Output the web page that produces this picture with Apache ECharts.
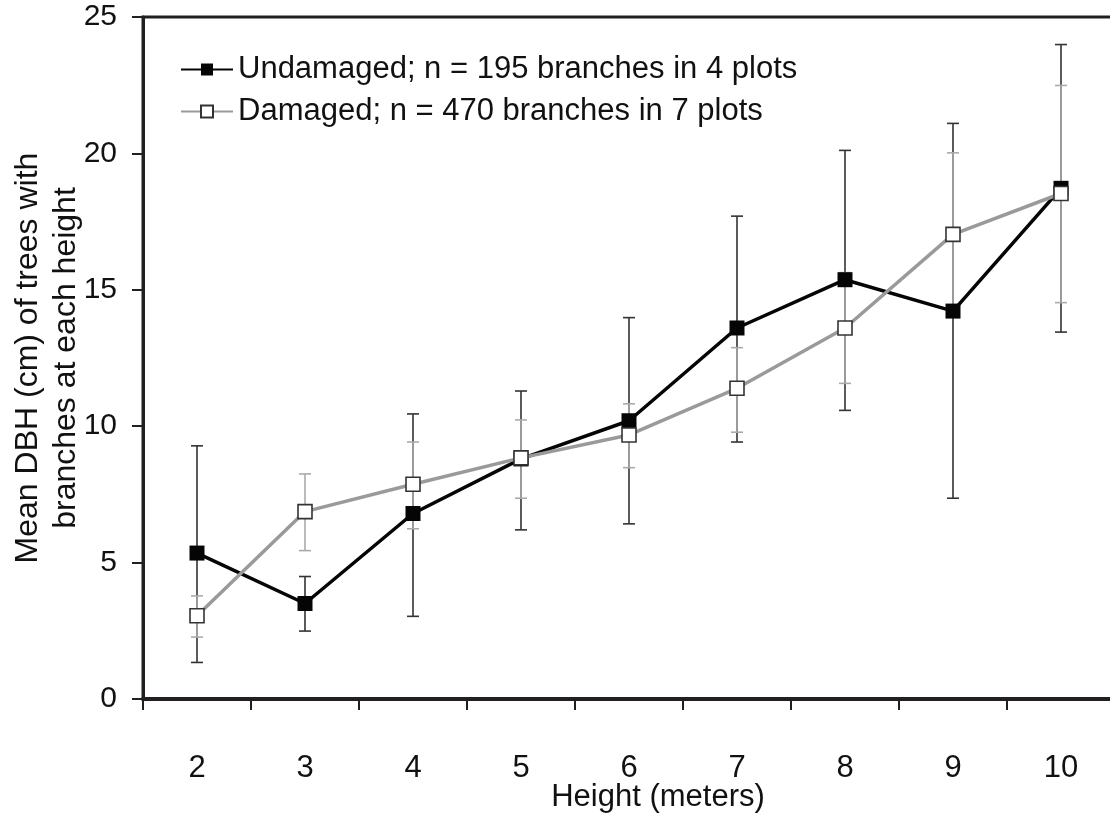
<!DOCTYPE html>
<html>
<head>
<meta charset="utf-8">
<script src="https://cdn.jsdelivr.net/npm/echarts@6/dist/echarts.min.js"></script>
<style>
html,body{margin:0;padding:0;background:#fff;}
#chart{width:1110px;height:815px;}
</style>
</head>
<body>
<div id="chart"></div>
<script>
var heights = ['2','3','4','5','6','7','8','9','10'];
var undamagedName = 'Undamaged; n = 195 branches in 4 plots';
var damagedName = 'Damaged; n = 470 branches in 7 plots';
var undamagedMean  = [5.35, 3.5, 6.8, 8.8, 10.2, 13.6, 15.37, 14.22, 18.72];
var undamagedUpper = [9.28, 4.49, 10.45, 11.29, 13.98, 17.7, 20.11, 21.1, 23.99];
var undamagedLower = [1.34, 2.49, 3.03, 6.2, 6.42, 9.42, 10.58, 7.36, 13.45];
var damagedMean  = [3.05, 6.87, 7.87, 8.84, 9.68, 11.39, 13.6, 17.03, 18.53];
var damagedUpper = [3.78, 8.25, 9.42, 10.23, 10.82, 12.88, 15.63, 20.02, 22.49];
var damagedLower = [2.27, 5.44, 6.24, 7.36, 8.48, 9.78, 11.57, 14.03, 14.53];

var FONT = "'Liberation Sans', Arial, Helvetica, sans-serif";

function errData(lower, upper) {
  return lower.map(function (lo, i) { return [i, lo, upper[i]]; });
}
function errRender(color, capHalf) {
  return function (params, api) {
    var x = api.value(0);
    var lo = api.coord([x, api.value(1)]);
    var hi = api.coord([x, api.value(2)]);
    var st = { stroke: color, lineWidth: 1.6 };
    return {
      type: 'group',
      children: [
        { type: 'line', shape: { x1: lo[0], y1: lo[1], x2: hi[0], y2: hi[1] }, style: st },
        { type: 'line', shape: { x1: lo[0] - capHalf, y1: lo[1], x2: lo[0] + capHalf, y2: lo[1] }, style: st },
        { type: 'line', shape: { x1: hi[0] - capHalf, y1: hi[1], x2: hi[0] + capHalf, y2: hi[1] }, style: st }
      ]
    };
  };
}

var chart = echarts.init(document.getElementById('chart'), null, { renderer: 'canvas' });
chart.setOption({
  animation: false,
  backgroundColor: '#fff',
  textStyle: { fontFamily: FONT },
  grid: {
    left: 143, top: 17, right: -5, bottom: 116,
    outerBoundsMode: 'none',
    containLabel: false,
    show: true, borderColor: '#231f20', borderWidth: 3, backgroundColor: 'transparent'
  },
  legend: {
    data: [undamagedName, damagedName],
    orient: 'vertical',
    left: 175, top: 49,
    itemWidth: 52, itemHeight: 15, itemGap: 11,
    textStyle: { fontFamily: FONT, fontSize: 31, color: '#111' }
  },
  xAxis: {
    type: 'category',
    data: heights,
    boundaryGap: true,
    axisLine: { show: true, lineStyle: { color: '#231f20', width: 4 } },
    axisTick: { show: true, alignWithLabel: false, length: 11, lineStyle: { color: '#231f20', width: 2 } },
    axisLabel: { margin: 54, fontSize: 31, color: '#111', fontFamily: FONT },
    splitLine: { show: false },
    name: 'Height (meters)',
    nameLocation: 'middle',
    nameGap: 83,
    nameMoveOverlap: false,
    nameTextStyle: { fontSize: 31, color: '#111', fontFamily: FONT, padding: [0, 0, 0, 58] }
  },
  yAxis: {
    type: 'value',
    min: 0, max: 25, interval: 5,
    axisLine: { show: true, lineStyle: { color: '#231f20', width: 3 } },
    axisTick: { show: true, length: 11, lineStyle: { color: '#231f20', width: 2 } },
    axisLabel: { margin: 26, fontSize: 30, color: '#111', fontFamily: FONT },
    splitLine: { show: false },
    name: 'Mean DBH (cm) of trees with\nbranches at each height',
    nameLocation: 'middle',
    nameGap: 58,
    nameMoveOverlap: false,
    nameTextStyle: { fontSize: 32, color: '#111', fontFamily: FONT, lineHeight: 38 }
  },
  series: [
    {
      type: 'custom',
      name: 'undamagedErr',
      data: errData(undamagedLower, undamagedUpper),
      encode: { x: 0, y: [1, 2] },
      renderItem: errRender('#333333', 6),
      z: 1
    },
    {
      type: 'custom',
      name: 'damagedErr',
      data: errData(damagedLower, damagedUpper),
      encode: { x: 0, y: [1, 2] },
      renderItem: errRender('#aaaaaa', 6),
      z: 2
    },
    {
      type: 'line',
      name: undamagedName,
      data: undamagedMean,
      symbol: 'rect',
      symbolSize: 15,
      lineStyle: { color: '#050505', width: 3.5 },
      itemStyle: { color: '#050505', borderColor: '#050505', borderWidth: 0 },
      z: 3
    },
    {
      type: 'line',
      name: damagedName,
      data: damagedMean,
      symbol: 'rect',
      symbolSize: 14,
      lineStyle: { color: '#9a9a9a', width: 3.5 },
      itemStyle: { color: '#ffffff', borderColor: '#333333', borderWidth: 1.6 },
      z: 4
    }
  ]
});
</script>
</body>
</html>
